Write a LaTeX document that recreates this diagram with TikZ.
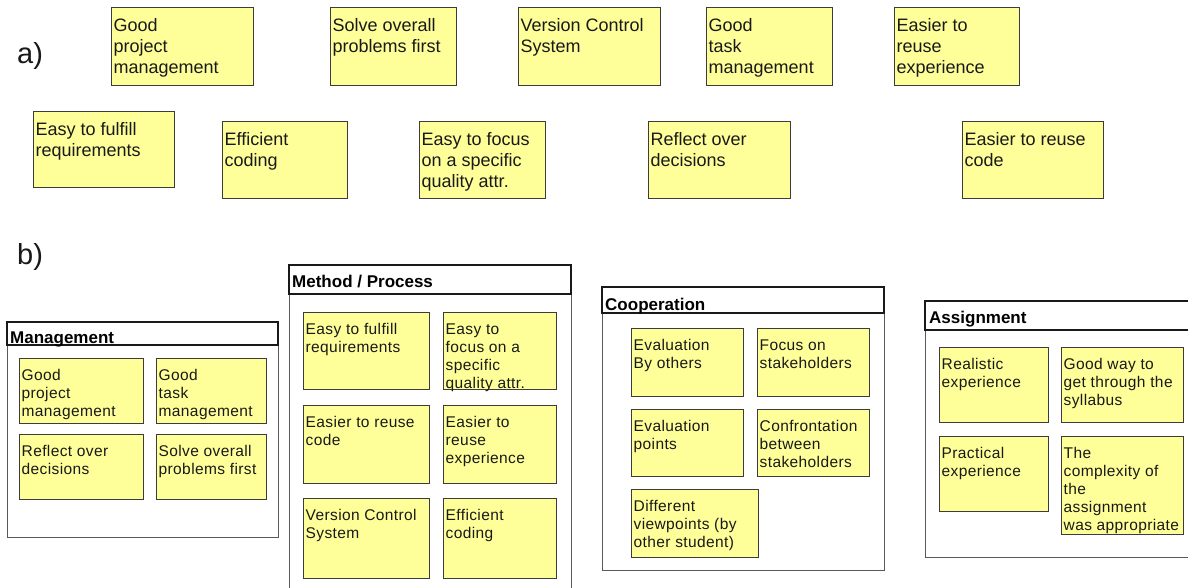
\documentclass[tikz,border=0pt]{standalone}
\usepackage{fontspec}
\setmainfont{Liberation Sans}
\usetikzlibrary{fit}
\definecolor{stickyfill}{RGB}{255,255,153}
\definecolor{stickyline}{RGB}{60,60,60}
\definecolor{txt}{RGB}{25,25,25}
\tikzset{
  sbox/.style={rectangle, draw=stickyline, fill=stickyfill, line width=1pt, inner sep=0pt},
  stxtA/.style={anchor=north west, align=left, inner sep=0pt, text=txt, font=\fontsize{18}{21}\selectfont},
  stxtB/.style={anchor=north west, align=left, inner sep=0pt, text=txt, font=\fontsize{15.5}{18}\selectfont\addfontfeatures{LetterSpace=2.5}},
  frame/.style={rectangle, draw=black!65, line width=1pt, inner sep=0pt},
  header/.style={rectangle, draw=black!90, line width=1.1pt, inner sep=0pt},
  ftitle/.style={anchor=base west, inner sep=0pt, text=black, font=\fontsize{17}{18}\selectfont\bfseries},
  partlabel/.style={anchor=base west, inner sep=0pt, text=txt, font=\fontsize{29}{30}\selectfont},
}
\newcommand\stickyA[6]{%
  \node[sbox, fit={(#2,#3)(#4,#5)}] (#1) {};
  \node[stxtA] (#1t) at ([xshift=3pt,yshift=-9.3pt]#1.north west) {\strut #6};
}
\newcommand\stickyB[6]{%
  \node[sbox, fit={(#2,#3)(#4,#5)}] (#1) {};
  \node[stxtB] (#1t) at ([xshift=3pt,yshift=-10pt]#1.north west) {\strut #6};
}
\newcommand\groupframe[6]{% name x1 y1 x2 y2 headery
  \node[frame, fit={(#2,#3)(#4,#5)}] (#1) {};
  \node[header, fit={(#2,#3)(#4,#6)}] (#1h) {};
}
\begin{document}
\begin{tikzpicture}[x=1pt,y=-1pt]
\useasboundingbox (0,0) rectangle (1188,588);
\fill[white] (0,0) rectangle (1188,588);

% ---------- a) ----------
\node[partlabel] (la) at (17,64) {a)};
\stickyA{a1}{111}{8}{253}{86}{Good\\project\\management}
\stickyA{a2}{330}{8}{456}{86}{Solve overall\\problems first}
\stickyA{a3}{518}{8}{660}{86}{Version Control\\System}
\stickyA{a4}{706}{8}{832}{86}{Good\\task\\management}
\stickyA{a5}{894}{8}{1019}{86}{Easier to\\reuse\\experience}
\stickyA{a6}{33}{112}{174}{188}{Easy to fulfill\\requirements}
\stickyA{a7}{222}{122}{347}{199}{Efficient\\coding}
\stickyA{a8}{419}{122}{545}{199}{Easy to focus\\on a specific\\quality attr.}
\stickyA{a9}{648}{122}{790}{199}{Reflect over\\decisions}
\stickyA{a10}{962}{122}{1103}{199}{Easier to reuse\\code}

% ---------- b) ----------
\node[partlabel] (lb) at (17,264) {b)};

% Management
\groupframe{gm}{7}{322}{278}{537}{345}
\node[ftitle] (gmt) at (10,343) {Management};
\stickyB{m1}{19}{358}{143}{423}{Good\\project\\management}
\stickyB{m2}{156}{358}{266}{423}{Good\\task\\management}
\stickyB{m3}{19}{434}{143}{499}{Reflect over\\decisions}
\stickyB{m4}{156}{434}{266}{499}{Solve overall\\problems first}

% Method / Process
\groupframe{gp}{289}{265}{571}{600}{294}
\node[ftitle] (gpt) at (292,287) {Method / Process};
\stickyB{p1}{303}{312}{429}{389}{Easy to fulfill\\requirements}
\stickyB{p2}{443}{312}{556}{389}{Easy to\\focus on a\\specific\\quality attr.}
\stickyB{p3}{303}{405}{429}{483}{Easier to reuse\\code}
\stickyB{p4}{443}{405}{556}{483}{Easier to\\reuse\\experience}
\stickyB{p5}{303}{498}{429}{578}{Version Control\\System}
\stickyB{p6}{443}{498}{556}{578}{Efficient\\coding}

% Cooperation
\groupframe{gc}{602}{287}{884}{570}{313}
\node[ftitle] (gct) at (605,310) {Cooperation};
\stickyB{c1}{631}{328}{743}{396}{Evaluation\\By others}
\stickyB{c2}{757}{328}{869}{396}{Focus on\\stakeholders}
\stickyB{c3}{631}{409}{743}{476}{Evaluation\\points}
\stickyB{c4}{757}{409}{869}{476}{Confrontation\\between\\stakeholders}
\stickyB{c5}{631}{489}{758}{557}{Different\\viewpoints (by\\other student)}

% Assignment
\groupframe{ga}{925}{301}{1200}{557}{330}
\node[ftitle] (gat) at (929,323) {Assignment};
\stickyB{s1}{939}{347}{1048}{422}{Realistic\\experience}
\stickyB{s2}{1061}{347}{1183}{422}{Good way to\\get through the\\syllabus}
\stickyB{s3}{939}{436}{1048}{511}{Practical\\experience}
\stickyB{s4}{1061}{436}{1183}{534}{The\\complexity of\\the\\assignment\\was appropriate}
\end{tikzpicture}
\end{document}
